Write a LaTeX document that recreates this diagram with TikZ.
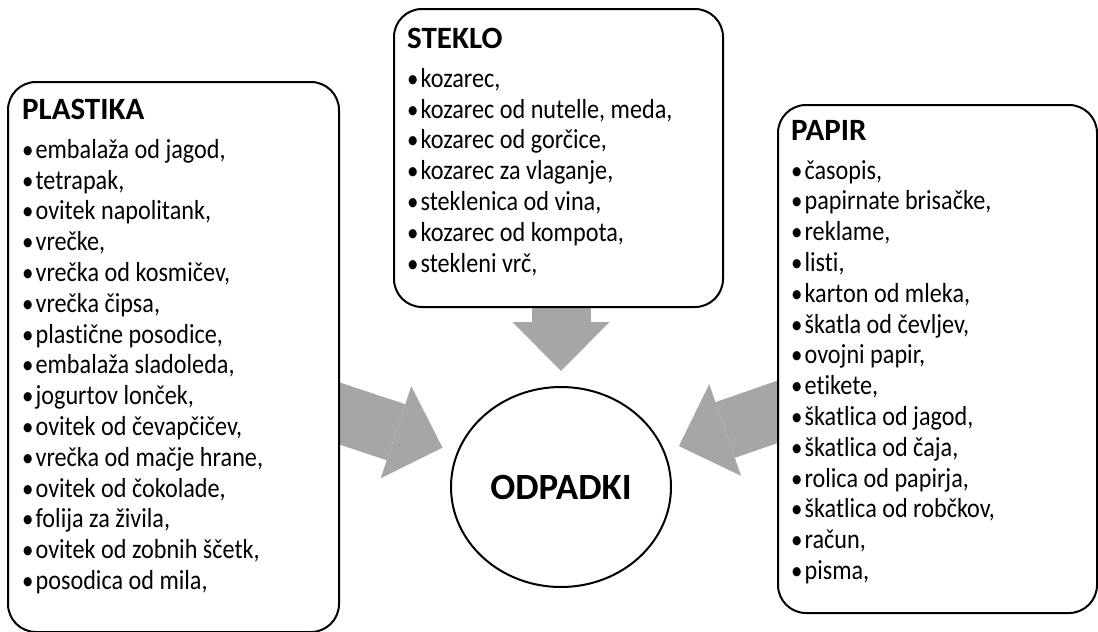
\documentclass[tikz,border=0pt]{standalone}
\usepackage{fontspec}
\setmainfont{Carlito}[Ligatures=NoCommon]
\newfontfamily\itemfont{Carlito}[FakeStretch=0.88,Ligatures=NoCommon]
\usetikzlibrary{positioning,shapes.geometric,arrows.meta,backgrounds}
\definecolor{feedgray}{RGB}{166,166,166}
\newcommand\bul{{\fontsize{26}{26}\selectfont•}\hspace{2pt}}

\begin{document}
\begin{tikzpicture}
[x=1pt,y=-1pt
,bin/.style={draw,line width=2pt,rounded corners=28pt,fill=white,anchor=north west,inner sep=0pt}
,list/.style={align=left,inner sep=0pt,font=\itemfont\fontsize{27.5}{30.8}\selectfont}
,waste/.style={draw,line width=2pt,ellipse,fill=white,minimum width=220pt,minimum height=200pt,font=\fontsize{37}{40}\selectfont\bfseries}
,feed/.style={draw=feedgray,line width=59pt,-{Triangle[length=49pt,width=97pt,line width=0pt]},shorten >=15pt}
]
\useasboundingbox (0,0) rectangle (1098,632);

\node[bin,minimum width=331pt,minimum height=550pt] (plastika) at (7,81)  {};
\node[bin,minimum width=329pt,minimum height=298pt] (steklo)   at (393,8) {};
\node[bin,minimum width=319pt,minimum height=508pt] (papir)    at (777,104) {};
\node[waste] (odpadki) at (561,487) {ODPADKI};

\node[list,below right=18pt and 15pt of plastika.north west] (plastikalist)
  {{\normalfont\fontsize{31}{31}\selectfont\bfseries PLASTIKA}\\[8pt]
   \bul embalaža od jagod,\\ \bul tetrapak,\\ \bul ovitek napolitank,\\ \bul vrečke,\\
   \bul vrečka od kosmičev,\\ \bul vrečka čipsa,\\ \bul plastične posodice,\\
   \bul embalaža sladoleda,\\ \bul jogurtov lonček,\\ \bul ovitek od čevapčičev,\\
   \bul vrečka od mačje hrane,\\ \bul ovitek od čokolade,\\ \bul folija za živila,\\
   \bul ovitek od zobnih ščetk,\\ \bul posodica od mila,};
\node[list,below right=20pt and 14pt of steklo.north west] (steklolist)
  {{\normalfont\fontsize{31}{31}\selectfont\bfseries STEKLO}\\[8pt]
   \bul kozarec,\\ \bul kozarec od nutelle, meda,\\ \bul kozarec od gorčice,\\
   \bul kozarec za vlaganje,\\ \bul steklenica od vina,\\ \bul kozarec od kompota,\\
   \bul stekleni vrč,};
\node[list,below right=16pt and 14pt of papir.north west] (papirlist)
  {{\normalfont\fontsize{31}{31}\selectfont\bfseries PAPIR}\\[8pt]
   \bul časopis,\\ \bul papirnate brisačke,\\ \bul reklame,\\ \bul listi,\\
   \bul karton od mleka,\\ \bul škatla od čevljev,\\ \bul ovojni papir,\\ \bul etikete,\\
   \bul škatlica od jagod,\\ \bul škatlica od čaja,\\ \bul rolica od papirja,\\
   \bul škatlica od robčkov,\\ \bul račun,\\ \bul pisma,};

\coordinate (plastikaout) at (320,407);
\coordinate (papirout)    at (800,404);
\begin{scope}[on background layer]
\draw[feed] (odpadki |- steklo.south) -- (odpadki);
\draw[feed] (plastikaout) -- (odpadki);
\draw[feed] (papirout) -- (odpadki);
\end{scope}

\end{tikzpicture}
\end{document}
